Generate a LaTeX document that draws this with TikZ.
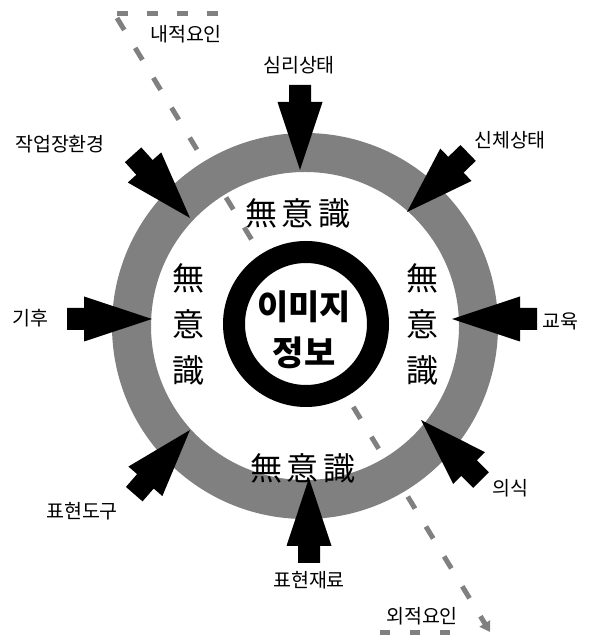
\documentclass[tikz,border=0pt]{standalone}
\usepackage{fontspec}
\newfontfamily\kr{Noto Sans CJK KR}
\usetikzlibrary{calc,arrows.meta}
\tikzset{
  blockarrow/.pic={\fill[black] (0pt,0pt) -- (-68pt,22.5pt) -- (-68pt,11pt) -- (-85pt,11pt) -- (-85pt,-11pt) -- (-68pt,-11pt) -- (-68pt,-22.5pt) -- cycle;},
  lbl/.style={font=\kr\fontsize{19.5}{21}\selectfont, inner sep=0pt},
  muih/.style={font=\kr\fontsize{32}{34}\selectfont, inner sep=0pt},
  muiv/.style={font=\kr\fontsize{32}{46}\selectfont, inner sep=0pt, align=center},
  halft/.style={draw=black!50, line width=5pt},
}
\begin{document}
\begin{tikzpicture}[x=1pt,y=1pt]
\useasboundingbox (0,0) rectangle (593,642);
\coordinate (c) at (305,316);
% gray ring
\fill[black!50, even odd rule] (c) circle[radius=193pt] (c) circle[radius=154pt];
% dashed guide line
\coordinate (ls) at (117,624);
\coordinate (le) at (490,10);
\coordinate (t1) at (117,628);
\coordinate (t2) at (222,628);
\coordinate (b1) at (380,9);
\coordinate (b2) at (470,9);
\draw[halft, dash pattern=on 11pt off 19pt] (t1) -- (t2);
\draw[halft, dash pattern=on 10pt off 20pt] (b1) -- (b2);
\draw[halft, dash pattern=on 14pt off 21pt, -{Triangle[length=10pt,width=12pt]}] (ls) -- (le);
% arrows: tip, direction toward tail
\foreach \x/\y/\a in {300/472/90, 152/323/180, 452/323/0, 309/164/270, 190/424/132, 407/430/44, 190/212/229, 421/222/-45}{
  \coordinate (tip) at (\x,\y);
  \path (tip) pic[rotate=\a+180] {blockarrow};
}
% central black ring
\draw[line width=22pt, fill=white] (306,318) circle[radius=72pt];
\node[font=\kr\bfseries\fontsize{34}{40}\selectfont, inner sep=0pt] (img1) at (304,335) {이미지};
\node[font=\kr\bfseries\fontsize{34}{40}\selectfont, inner sep=0pt] (img2) at (304,289) {정보};
% 無意識 labels
\node[muih] (mt) at (298,429) {無\hspace{5pt}意\hspace{5pt}識};
\node[muih] (mb) at (303,174) {無\hspace{5pt}意\hspace{5pt}識};
\node[muiv] (ml) at (188,318) {無\\意\\識};
\node[muiv] (mr) at (422,318) {無\\意\\識};
% outer labels
\node[lbl] (n1) at (186,608) {내적요인};
\node[lbl] (n2) at (299,577) {심리상태};
\node[lbl] (n3) at (60,498) {작업장환경};
\node[lbl] (n4) at (510,502) {신체상태};
\node[lbl] (n5) at (30,324) {기후};
\node[lbl] (n6) at (560,321) {교육};
\node[lbl] (n7) at (82,131) {표현도구};
\node[lbl] (n8) at (510,154) {의식};
\node[lbl] (n9) at (309,62) {표현재료};
\node[lbl] (n10) at (422,26) {외적요인};
\end{tikzpicture}
\end{document}
